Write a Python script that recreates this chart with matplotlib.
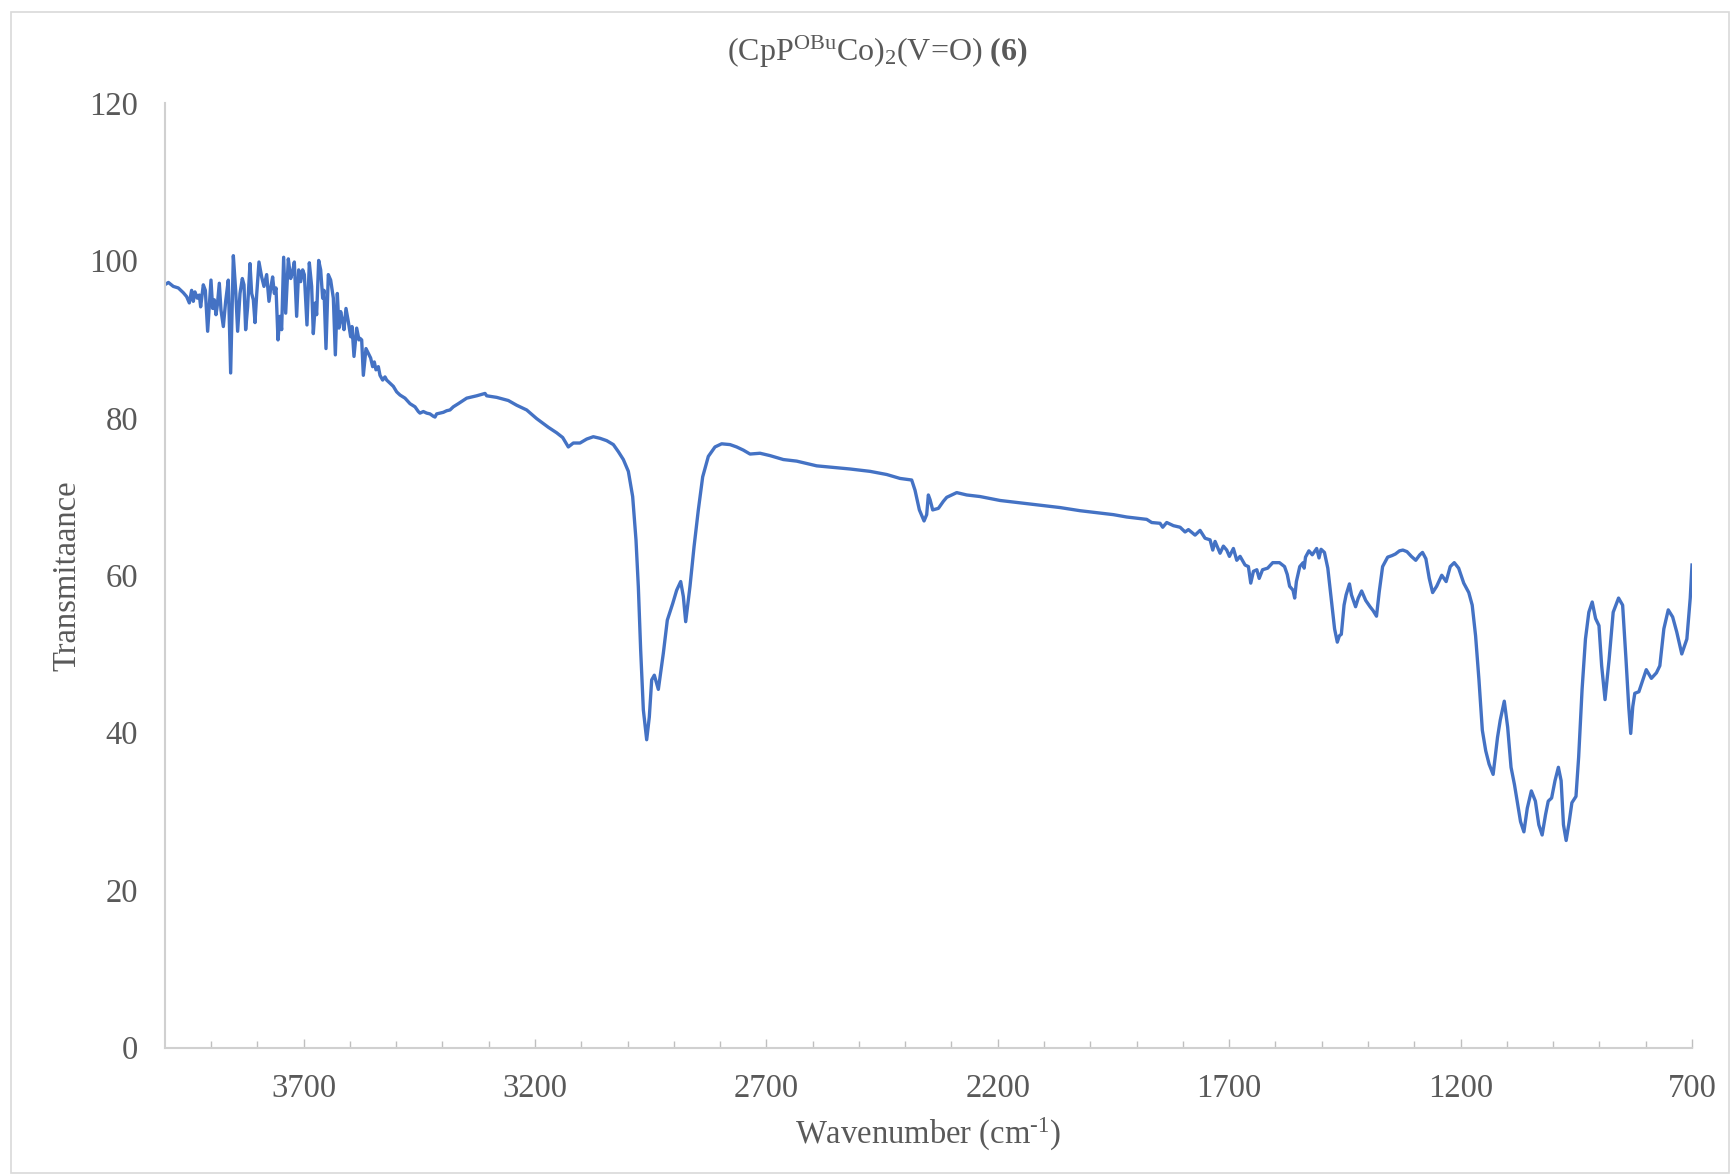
import matplotlib
matplotlib.use("Agg")
import matplotlib.pyplot as plt
from matplotlib.ticker import FixedLocator
from matplotlib.patches import Rectangle
import numpy as np

plt.rcParams['font.family'] = ['Liberation Serif', 'DejaVu Serif']
plt.rcParams['mathtext.fontset'] = 'custom'
plt.rcParams['mathtext.rm'] = 'Liberation Serif'
plt.rcParams['mathtext.it'] = 'Liberation Serif:italic'
plt.rcParams['mathtext.bf'] = 'Liberation Serif:bold'

# IR spectrum of (CpP^OBuCo)2(V=O): wavenumber (cm-1) and % transmittance
wavenumber_hi = [
    4000, 3992, 3981.4, 3970.6, 3959.8, 3952.6, 3946.8, 3941.8, 3938.2, 3934.6,
    3929.5, 3925.2, 3922.3, 3916.6, 3912.2, 3907.2, 3900, 3896.4, 3892.8, 3889.2,
    3886.3, 3882, 3878.4, 3873.3, 3868.3, 3862.6, 3857.5, 3851.7, 3846.7, 3842.4,
    3837.3, 3832.3, 3828.7, 3825.1, 3820.8, 3815.7, 3812.1, 3808.5, 3804.9, 3801.3,
    3796.3, 3790.5, 3785.5, 3779.7, 3774.7, 3770.3, 3766.8, 3763.1, 3759.5, 3755.2,
    3750.9, 3747.3, 3743, 3738.6, 3732.9, 3727.8, 3723.5, 3719.9, 3714.9, 3710.5,
    3706.2, 3701.9, 3698.3, 3692.6, 3687.5, 3682.5, 3678.9, 3674.5, 3671.7, 3667.3,
    3663, 3658.7, 3655.8, 3651.5, 3646.5, 3641.4, 3635.6, 3631.3, 3627, 3623.4,
    3619.8, 3616.2, 3612.6, 3608.3, 3603.2, 3598.2, 3595.3, 3591, 3585.2, 3580.2,
    3578, 3574.4, 3570.8, 3565.1, 3560, 3555, 3550.7, 3547.1, 3543.5, 3538.4,
    3534.8, 3529.1, 3524, 3520.4, 3513.2, 3506, 3498.8, 3491.6, 3480.8, 3470,
    3459.2, 3452, 3448.4, 3441.2, 3434, 3426.8, 3419.6, 3416, 3412.4, 3405.2,
    3398, 3390.8, 3383.6, 3376.4, 3365.6,
]
transmittance_hi = [
    96.9, 97.2, 96.7, 96.5, 95.9, 95.4, 94.6, 96.2, 94.8, 96.0,
    95.2, 95.6, 94.1, 96.9, 96.2, 91.0, 97.5, 93.9, 95.0, 93.1,
    94.3, 97.1, 93.7, 91.6, 94.8, 97.5, 85.7, 100.6, 96.2, 91.0,
    95.8, 97.7, 96.9, 91.2, 94.1, 99.6, 95.8, 95.0, 92.1, 95.6,
    99.8, 97.9, 96.7, 98.2, 94.8, 96.7, 97.9, 95.8, 96.5, 89.9,
    92.9, 91.2, 100.4, 93.3, 100.2, 97.7, 98.6, 99.8, 92.9, 98.8,
    97.3, 98.8, 98.2, 91.8, 99.7, 96.7, 90.7, 94.6, 93.1, 100.0,
    98.8, 95.2, 96.2, 88.8, 98.2, 97.5, 95.2, 88.0, 95.8, 91.4,
    93.5, 92.4, 91.2, 93.9, 92.2, 90.3, 91.6, 87.8, 91.4, 89.9,
    90.1, 89.9, 85.4, 88.8, 88.2, 87.6, 86.5, 87.1, 86.1, 86.5,
    85.4, 84.8, 85.2, 84.8, 84.4, 84.0, 83.3, 82.9, 82.5, 81.8,
    81.4, 80.8, 80.6, 80.8, 80.6, 80.5, 80.2, 80.1, 80.5, 80.6,
    80.7, 80.9, 81.0, 81.4, 81.8,
]

wavenumber_mid = [
    3347.5, 3325.9, 3307.9, 3304.3, 3282.7, 3257.5, 3239.5, 3217.9, 3196.3, 3171.1,
    3153.1, 3140.1, 3127.9, 3117.1, 3102.7, 3088.3, 3073.9, 3059.5, 3045, 3030.6,
    3019.8, 3009, 2998.2, 2988.9, 2981.7, 2976.6, 2971.6, 2965.8, 2958.6, 2952.9,
    2947.8, 2942.1, 2933.4, 2922.6, 2914, 2902.4, 2893.8, 2885.1, 2879.4, 2874.3,
    2865, 2856.3, 2847, 2837.6, 2825.4, 2811, 2796.6, 2778.5, 2764.2, 2749.8,
    2735.3, 2713.7, 2692.1, 2663.3, 2634.5, 2591.3, 2555.2, 2519.2, 2476, 2440,
    2411.2, 2386, 2378.8, 2369.4, 2359.3, 2353.6, 2350, 2346.3, 2340.6, 2328.3,
    2317.5, 2310.3, 2288.7, 2267.1, 2238.3, 2195.1, 2151.9, 2108.6, 2065.4, 2022.2,
    1979, 1950.2, 1921.4, 1878.2, 1867.4, 1849.4, 1843.6, 1835, 1820.5, 1806.1,
    1795.3, 1788.1, 1773.7, 1762.9, 1752.1, 1741.3, 1735.5, 1730.5, 1719.7, 1712.5,
    1705.3, 1699.5, 1690.9, 1683.6, 1676.4, 1665.7, 1658.5,
]
transmittance_mid = [
    82.5, 82.8, 83.1, 82.8, 82.6, 82.2, 81.6, 81.0, 79.9, 78.8,
    78.1, 77.5, 76.3, 76.8, 76.8, 77.3, 77.6, 77.4, 77.1, 76.6,
    75.7, 74.7, 73.2, 70.0, 64.5, 58.5, 50.5, 42.9, 39.1, 42.0,
    46.7, 47.3, 45.5, 50.1, 54.3, 56.4, 58.1, 59.2, 57.3, 54.1,
    58.6, 63.6, 68.3, 72.5, 75.1, 76.3, 76.7, 76.6, 76.3, 75.9,
    75.4, 75.5, 75.2, 74.7, 74.5, 73.9, 73.7, 73.5, 73.2, 72.8,
    72.3, 72.1, 70.8, 68.3, 66.9, 67.7, 70.2, 69.6, 68.3, 68.5,
    69.4, 69.9, 70.5, 70.2, 70.0, 69.5, 69.2, 68.9, 68.6, 68.2,
    67.9, 67.7, 67.4, 67.1, 66.7, 66.6, 66.1, 66.7, 66.3, 66.1,
    65.5, 65.8, 65.1, 65.7, 64.7, 64.5, 63.2, 64.3, 62.8, 63.7,
    63.2, 62.4, 63.4, 61.9, 62.4, 61.3, 61.1,
]

wavenumber_lo = [
    1653.4, 1647.6, 1640.3, 1635.2, 1627.9, 1616.9, 1605.9, 1591.3, 1580.4, 1574.5,
    1569.4, 1562.1, 1558.5, 1554.8, 1547.5, 1540.2, 1538, 1535.1, 1527.8, 1520.5,
    1511, 1505.9, 1501.5, 1494.2, 1486.9, 1479.6, 1472.3, 1466.4, 1462, 1457.7,
    1451.8, 1447.4, 1440.1, 1435.7, 1426.9, 1421.1, 1413.8, 1405, 1395.6, 1389,
    1381.7, 1375.8, 1368.5, 1357.6, 1348.1, 1340.8, 1332, 1324.7, 1315.9, 1306.4,
    1296.9, 1288.1, 1282.3, 1275, 1267.7, 1260.4, 1251.7, 1240.7, 1231.2, 1222.4,
    1213.7, 1204.2, 1193.2, 1182.3, 1174.9, 1167.6, 1160.3, 1153, 1145.7, 1138.4,
    1129.7, 1120.2, 1114.3, 1105.6, 1098.3, 1091, 1083.6, 1076.3, 1070.5, 1063.2,
    1055.9, 1047.1, 1038.4, 1031, 1023.8, 1016.4, 1010.6, 1003.3, 996, 988.7,
    982.8, 977.7, 971.9, 965.3, 959.5, 950.7, 944.9, 937.5, 930.2, 922.9,
    915.6, 908.3, 901, 895.2, 887.9, 879.1, 870.3, 858.7, 849.9, 842.6,
    836.7, 832.4, 828, 823.6, 814.8, 806.1, 798.8, 787.8, 776.9, 769.5,
    760.8, 751.3, 741.8, 733, 722.1, 711.1, 703.8, 700,
]
transmittance_lo = [
    59.0, 60.5, 60.7, 59.6, 60.7, 60.9, 61.6, 61.6, 61.1, 60.1,
    58.6, 58.1, 57.1, 59.2, 61.1, 61.6, 60.9, 62.3, 63.1, 62.6,
    63.4, 62.2, 63.3, 62.9, 60.9, 57.1, 53.2, 51.5, 52.3, 52.5,
    56.2, 57.5, 58.9, 57.5, 56.0, 57.1, 58.0, 56.8, 56.0, 55.5,
    54.8, 57.9, 61.1, 62.3, 62.5, 62.7, 63.1, 63.2, 63.0, 62.4,
    61.9, 62.6, 62.9, 62.1, 59.6, 57.8, 58.6, 60.0, 59.2, 61.1,
    61.6, 60.9, 59.0, 57.8, 56.2, 52.3, 46.7, 40.3, 37.7, 36.0,
    34.7, 39.4, 41.6, 44.0, 40.7, 35.6, 33.4, 30.8, 28.7, 27.4,
    30.4, 32.6, 31.3, 28.3, 27.0, 29.6, 31.3, 31.7, 33.9, 35.6,
    33.9, 28.3, 26.3, 28.7, 31.1, 31.9, 36.9, 45.5, 51.9, 55.3,
    56.6, 54.5, 53.6, 48.5, 44.2, 49.3, 55.3, 57.1, 56.2, 49.3,
    43.3, 39.9, 43.3, 45.0, 45.2, 46.7, 48.0, 46.9, 47.6, 48.5,
    53.2, 55.6, 54.7, 52.8, 50.0, 51.9, 57.1, 61.3,
]

wavenumber = np.array(wavenumber_hi + wavenumber_mid + wavenumber_lo)
transmittance = np.array(transmittance_hi + transmittance_mid + transmittance_lo)

x_major = [3700, 3200, 2700, 2200, 1700, 1200, 700]
y_ticks = [0, 20, 40, 60, 80, 100, 120]

fig = plt.figure(figsize=(17.30, 11.75), dpi=100)
ax = fig.add_axes([164.7 / 1730, 1 - 1047.5 / 1175, (1692 - 164.7) / 1730, (1047.5 - 103) / 1175])

ax.plot(wavenumber, transmittance, color='#4472C4', lw=2.4, solid_joinstyle='round')

ax.set_xlim(4000, 700)
ax.set_ylim(0, 120)
ax.xaxis.set_major_locator(FixedLocator(x_major))
ax.xaxis.set_minor_locator(FixedLocator([v for v in range(3900, 700, -100) if v not in x_major]))
ax.set_yticks(y_ticks)

axis_grey = '#BFBFBF'
label_grey = '#595959'
for side in ('top', 'right'):
    ax.spines[side].set_visible(False)
for side in ('left', 'bottom'):
    ax.spines[side].set_color('#D0D0D0')
    ax.spines[side].set_linewidth(1.5)

ax.tick_params(axis='x', which='major', direction='in', length=6.3, width=1.0,
               color=axis_grey, labelsize=23.5, labelcolor=label_grey, pad=19)
ax.tick_params(axis='x', which='minor', direction='in', length=4.8, width=1.0,
               color=axis_grey)
ax.tick_params(axis='y', which='both', length=0, labelsize=23.5,
               labelcolor=label_grey, pad=19)

ax.set_xlabel(r'Wavenumber (cm$^{\text{-1}}$)', fontsize=23.5, color=label_grey, labelpad=8.5)
ax.set_ylabel('Transmitaance', fontsize=23.5, color=label_grey, labelpad=5)

fig.text(0.507, 1 - 52 / 1175,
         r'(CpP$^{\mathrm{OBu}}$Co)$_{\mathrm{2}}$(V=O) $\mathbf{(6)}$',
         ha='center', va='center', fontsize=23, color=label_grey)

# light frame around the chart area
fig.patches.append(Rectangle((11 / 1730, 2 / 1175), 1 - 12 / 1730, 1 - 14 / 1175,
                             transform=fig.transFigure, fill=False,
                             edgecolor='#D9D9D9', lw=1.2))

fig.savefig('out.png', dpi=100, facecolor='white')
